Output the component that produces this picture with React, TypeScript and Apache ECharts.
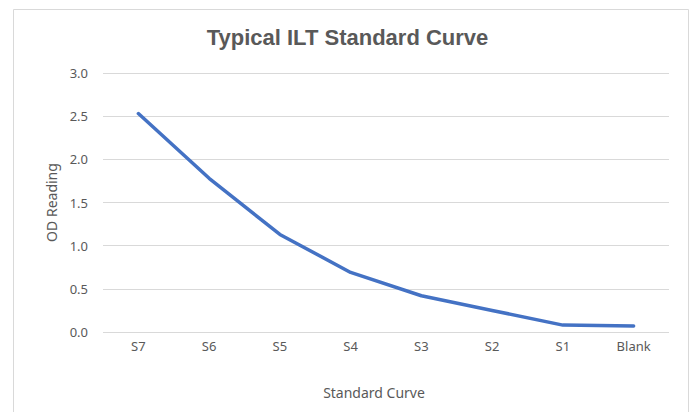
import React, { useEffect, useRef } from "react";
import * as echarts from "echarts";

const categories = ["S7", "S6", "S5", "S4", "S3", "S2", "S1", "Blank"];
const odReading = [2.53, 1.78, 1.13, 0.69, 0.42, 0.25, 0.08, 0.07];
const titleText = "Typical ILT Standard Curve";
const xName = "Standard Curve";
const yName = "OD Reading";

export default function App() {
  const ref = useRef<HTMLDivElement>(null);
  useEffect(() => {
    if (!ref.current) return;
    const chart = echarts.init(ref.current, null, { renderer: "svg" });
    const labelFont = "Noto Sans";
    chart.setOption({
      animation: false,
      backgroundColor: "#ffffff",
      title: {
        text: titleText,
        left: "center",
        top: 21,
        textStyle: {
          fontFamily: "Liberation Sans",
          fontWeight: "bold",
          fontSize: 22,
          color: "#595959",
        },
      },
      graphic: [
        {
          type: "rect",
          shape: { x: 13.5, y: 9.5, width: 675, height: 420 },
          style: { fill: "none", stroke: "#d9d9d9", lineWidth: 1 },
          silent: true,
        },
      ],
      grid: { left: 103, right: 26, top: 73, bottom: 80 },
      xAxis: {
        type: "category",
        data: categories,
        boundaryGap: true,
        name: xName,
        nameLocation: "middle",
        nameGap: 53,
        nameTextStyle: {
          fontFamily: labelFont,
          fontSize: 14,
          color: "#595959",
          padding: [0, 24, 0, 0],
        },
        axisLine: { show: false },
        axisTick: { show: false },
        axisLabel: {
          fontFamily: labelFont,
          fontSize: 13,
          color: "#595959",
          margin: 7,
        },
      },
      yAxis: {
        type: "value",
        min: 0,
        max: 3,
        interval: 0.5,
        name: yName,
        nameLocation: "middle",
        nameGap: 45,
        nameTextStyle: {
          fontFamily: labelFont,
          fontSize: 14,
          color: "#595959",
        },
        axisLabel: {
          fontFamily: labelFont,
          fontSize: 13,
          color: "#595959",
          margin: 15,
          formatter: (v: number) => v.toFixed(1),
        },
        axisLine: { show: false },
        axisTick: { show: false },
        splitLine: { lineStyle: { color: "#d9d9d9", width: 1 } },
      },
      series: [
        {
          type: "line",
          data: odReading,
          symbol: "none",
          lineStyle: { color: "#4472c4", width: 3.5, cap: "round", join: "round" },
        },
      ],
    });
    return () => chart.dispose();
  }, []);
  return (
    <div
      ref={ref}
      style={{ position: "absolute", left: 0, top: 0, width: 695, height: 412 }}
    />
  );
}
